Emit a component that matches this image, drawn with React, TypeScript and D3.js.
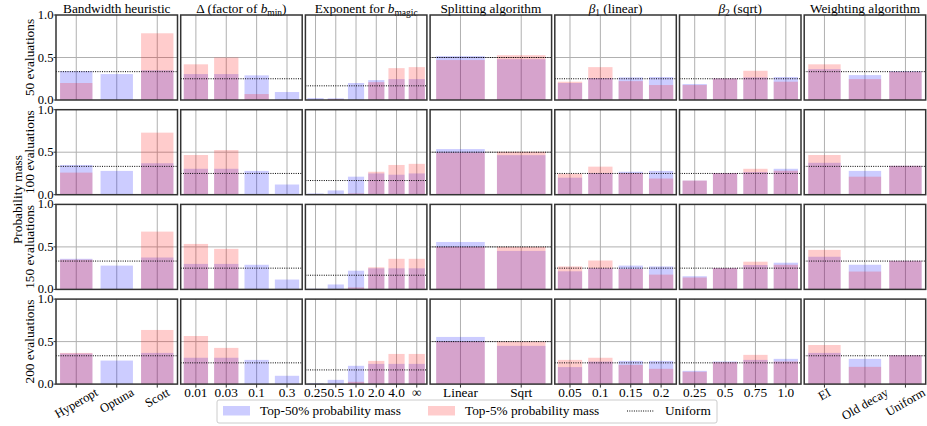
import React from "react";
import * as d3 from "d3";

const W = 927;
const H = 426;
const FONT = "'Liberation Serif', 'Times New Roman', 'DejaVu Serif', serif";

// ---- data ----
const rowLabels = ["50 evaluations", "100 evaluations", "150 evaluations", "200 evaluations"];
const yTicks = [0, 0.5, 1.0];

const bandwidthCats = ["Hyperopt", "Optuna", "Scott"];
const bandwidthTop50 = [[0.34, 0.305, 0.35], [0.35, 0.28, 0.37], [0.36, 0.28, 0.375], [0.36, 0.277, 0.367]];
const bandwidthTop5 = [[0.2, 0, 0.785], [0.26, 0, 0.73], [0.35, 0, 0.68], [0.367, 0, 0.637]];

const deltaCats = ["0.01", "0.03", "0.1", "0.3"];
const deltaTop50 = [[0.305, 0.305, 0.29, 0.094], [0.305, 0.305, 0.28, 0.12], [0.3, 0.3, 0.29, 0.116], [0.31, 0.31, 0.285, 0.098]];
const deltaTop5 = [[0.42, 0.5, 0.07, 0], [0.467, 0.525, 0, 0], [0.535, 0.477, 0, 0], [0.566, 0.426, 0, 0]];

const magicCats = ["0.25", "0.5", "1.0", "2.0", "4.0", "∞"];
const magicTop50 = [[0.023, 0.02, 0.2, 0.234, 0.246, 0.246], [0.015, 0.05, 0.212, 0.25, 0.235, 0.25], [0.008, 0.058, 0.22, 0.248, 0.248, 0.248], [0.012, 0.05, 0.215, 0.238, 0.238, 0.238]];
const magicTop5 = [[0, 0.012, 0, 0.21, 0.375, 0.387], [0, 0, 0.015, 0.27, 0.35, 0.363], [0, 0, 0.023, 0.26, 0.36, 0.36], [0, 0, 0.027, 0.273, 0.355, 0.355]];

const splitCats = ["Linear", "Sqrt"];
const splitTop50 = [[0.516, 0.48], [0.537, 0.465], [0.558, 0.453], [0.555, 0.45]];
const splitTop5 = [[0.47, 0.527], [0.495, 0.505], [0.5, 0.5], [0.5, 0.5]];

const beta1Cats = ["0.05", "0.1", "0.15", "0.2"];
const beta1Top50 = [[0.2, 0.258, 0.266, 0.27], [0.2, 0.255, 0.27, 0.28], [0.213, 0.25, 0.28, 0.27], [0.2, 0.265, 0.273, 0.273]];
const beta1Top5 = [[0.215, 0.387, 0.222, 0.176], [0.247, 0.33, 0.255, 0.19], [0.27, 0.34, 0.24, 0.174], [0.285, 0.31, 0.226, 0.18]];

const beta2Cats = ["0.25", "0.5", "0.75", "1.0"];
const beta2Top50 = [[0.1875, 0.254, 0.266, 0.27], [0.166, 0.255, 0.266, 0.305], [0.155, 0.252, 0.287, 0.314], [0.156, 0.266, 0.285, 0.297]];
const beta2Top5 = [[0.176, 0.254, 0.344, 0.215], [0.166, 0.255, 0.305, 0.282], [0.14, 0.252, 0.326, 0.29], [0.145, 0.258, 0.344, 0.266]];

const weightCats = ["EI", "Old decay", "Uniform"];
const weightTop50 = [[0.363, 0.293, 0.34], [0.375, 0.28, 0.34], [0.384, 0.29, 0.337], [0.367, 0.297, 0.34]];
const weightTop5 = [[0.42, 0.246, 0.332], [0.467, 0.212, 0.34], [0.465, 0.21, 0.337], [0.46, 0.203, 0.34]];

const legendLabels = ["Top-50% probability mass", "Top-5% probability mass", "Uniform"];

type Seg = { t: string; it?: boolean; sub?: boolean };
const titles: Seg[][] = [
  [{ t: "Bandwidth heuristic" }],
  [{ t: "Δ (factor of " }, { t: "b", it: true }, { t: "min", sub: true }, { t: ")" }],
  [{ t: "Exponent for " }, { t: "b", it: true }, { t: "magic", sub: true }],
  [{ t: "Splitting algorithm" }],
  [{ t: "β", it: true }, { t: "1", sub: true }, { t: " (linear)" }],
  [{ t: "β", it: true }, { t: "2", sub: true }, { t: " (sqrt)" }],
  [{ t: "Weighting algorithm" }],
];

const panels = [
  { cats: bandwidthCats, top50: bandwidthTop50, top5: bandwidthTop5, rotate: true },
  { cats: deltaCats, top50: deltaTop50, top5: deltaTop5, rotate: false },
  { cats: magicCats, top50: magicTop50, top5: magicTop5, rotate: false },
  { cats: splitCats, top50: splitTop50, top5: splitTop5, rotate: false },
  { cats: beta1Cats, top50: beta1Top50, top5: beta1Top5, rotate: false },
  { cats: beta2Cats, top50: beta2Top50, top5: beta2Top5, rotate: false },
  { cats: weightCats, top50: weightTop50, top5: weightTop5, rotate: true },
];

// ---- layout ----
const gridLeft = 56;
const panelW = 121.5;
const colStep = 124.7;
const gridTop = 15;
const panelH = 85;
const rowStep = 94.7;
const FS = 13.3;
const TFS = 12.6;

let _ctx: CanvasRenderingContext2D | null = null;
function measure(text: string, size: number) {
  if (!_ctx) {
    const c = document.createElement("canvas");
    _ctx = c.getContext("2d");
  }
  if (!_ctx) return text.length * size * 0.45;
  _ctx.font = `${size}px ${FONT}`;
  return _ctx.measureText(text).width;
}

function Title({ segs, x, y }: { segs: Seg[]; x: number; y: number }) {
  const out: React.ReactNode[] = [];
  let inSub = false;
  segs.forEach((s, i) => {
    let dy = 0;
    if (s.sub && !inSub) { dy = 3; inSub = true; }
    else if (!s.sub && inSub) { dy = -3; inSub = false; }
    out.push(
      <tspan key={i} dy={dy || undefined} fontStyle={s.it ? "italic" : undefined} fontSize={s.sub ? 9.5 : undefined}>
        {s.t}
      </tspan>
    );
  });
  return (
    <text x={x} y={y} textAnchor="middle" fontSize={FS} fill="#000">
      {out}
    </text>
  );
}

export default function App() {
  const y = d3.scaleLinear().domain([0, 1]).range([panelH, 0]);
  const blue = "rgba(0,0,255,0.2)";
  const red = "rgba(255,0,0,0.2)";
  const gridColor = "#b0b0b0";
  const lastRowBottom = gridTop + 3 * rowStep + panelH;

  return (
    <svg width={W} height={H} style={{ position: "absolute", left: 0, top: 0 }} fontFamily={FONT}>
      <rect x={0} y={0} width={W} height={H} fill="#fff" />
      {/* y label */}
      <text
        transform={`translate(17,${(gridTop + lastRowBottom) / 2}) rotate(-90)`}
        textAnchor="middle"
        dominantBaseline="central"
        fontSize={FS}
      >
        Probability mass
      </text>
      {rowLabels.map((lab, r) => (
        <text
          key={lab}
          transform={`translate(29.5,${gridTop + r * rowStep + panelH / 2}) rotate(-90)`}
          textAnchor="middle"
          dominantBaseline="central"
          fontSize={FS}
        >
          {lab}
        </text>
      ))}
      {panels.map((p, c) => {
        const left = gridLeft + c * colStep;
        const x = d3.scaleBand<string>().domain(p.cats).range([0, panelW]).paddingInner(0.2).paddingOuter(0.1);
        const uni = 1 / p.cats.length;
        return (
          <g key={c}>
            <Title segs={titles[c]} x={left + panelW / 2} y={gridTop - 2.5} />
            {rowLabels.map((_, r) => {
              const top = gridTop + r * rowStep;
              return (
                <g key={r} transform={`translate(${left},${top})`}>
                  {/* grid */}
                  {p.cats.map((cat) => (
                    <line key={cat} x1={x(cat)! + x.bandwidth() / 2} x2={x(cat)! + x.bandwidth() / 2} y1={0} y2={panelH} stroke={gridColor} strokeWidth={1} />
                  ))}
                  <line x1={0} x2={panelW} y1={y(0.5)} y2={y(0.5)} stroke={gridColor} strokeWidth={1} />
                  {/* bars */}
                  {p.cats.map((cat, i) => (
                    <rect key={"b" + cat} x={x(cat)} width={x.bandwidth()} y={y(p.top50[r][i])} height={y(0) - y(p.top50[r][i])} fill={blue} />
                  ))}
                  {p.cats.map((cat, i) => (
                    <rect key={"r" + cat} x={x(cat)} width={x.bandwidth()} y={y(p.top5[r][i])} height={y(0) - y(p.top5[r][i])} fill={red} />
                  ))}
                  <line x1={0} x2={panelW} y1={y(uni)} y2={y(uni)} stroke="#000" strokeWidth={1} strokeDasharray="1,1.3" />
                  <rect x={0} y={0} width={panelW} height={panelH} fill="none" stroke="#333" strokeWidth={1.5} />
                  {/* y ticks on first column */}
                  {c === 0 &&
                    yTicks.map((t) => (
                      <g key={t}>
                        <line x1={-2.5} x2={0} y1={y(t)} y2={y(t)} stroke="#333" />
                        <text x={-2.5} y={y(t)} textAnchor="end" dominantBaseline="central" fontSize={TFS}>
                          {t.toFixed(1)}
                        </text>
                      </g>
                    ))}
                  {/* x ticks on last row */}
                  {r === 3 &&
                    p.cats.map((cat) => {
                      const cx = x(cat)! + x.bandwidth() / 2;
                      let label: React.ReactNode;
                      if (p.rotate) {
                        const w = measure(cat, TFS);
                        const cy = panelH + 2.5 + (w * 0.5 + 11 * 0.866) / 2;
                        label = (
                          <text transform={`translate(${cx},${cy}) rotate(-30)`} textAnchor="middle" dominantBaseline="central" fontSize={TFS}>
                            {cat}
                          </text>
                        );
                      } else {
                        label = (
                          <text x={cx} y={panelH + 13} textAnchor="middle" fontSize={FS}>
                            {cat}
                          </text>
                        );
                      }
                      return (
                        <g key={cat}>
                          <line x1={cx} x2={cx} y1={panelH} y2={panelH + 3.5} stroke="#333" />
                          {label}
                        </g>
                      );
                    })}
                </g>
              );
            })}
          </g>
        );
      })}
      {/* legend */}
      <g>
        <rect x={217} y={400} width={500} height={23} fill="#fff" stroke="#cccccc" strokeWidth={1} rx={2} />
        <rect x={223} y={406} width={27} height={9.5} fill={blue} />
        <text x={260} y={415} fontSize={FS}>{legendLabels[0]}</text>
        <rect x={428} y={406} width={27} height={9.5} fill={red} />
        <text x={465} y={415} fontSize={FS}>{legendLabels[1]}</text>
        <line x1={627} x2={654} y1={411} y2={411} stroke="#000" strokeWidth={1} strokeDasharray="1,1.3" />
        <text x={665} y={415} fontSize={FS}>{legendLabels[2]}</text>
      </g>
    </svg>
  );
}
